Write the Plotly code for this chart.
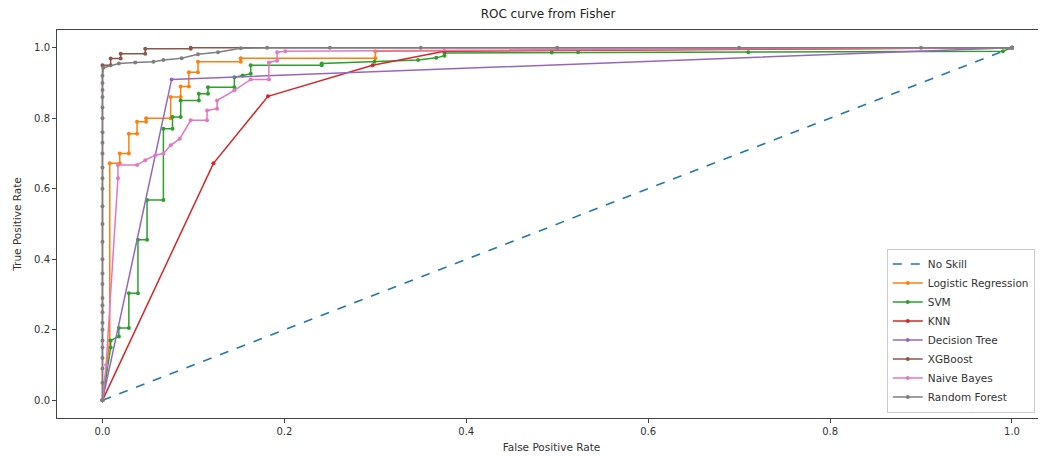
import plotly.graph_objects as go

# ---- data ----
noskill_fpr = [0.0, 1.0]
noskill_tpr = [0.0, 1.0]

lr_fpr = [0, 0.008, 0.008, 0.019, 0.019, 0.029, 0.029, 0.038, 0.038, 0.048, 0.048, 0.075, 0.075,
          0.086, 0.086, 0.095, 0.095, 0.105, 0.105, 0.152, 0.152, 0.30, 0.30, 1.0]
lr_tpr = [0, 0.17, 0.672, 0.672, 0.70, 0.70, 0.756, 0.756, 0.79, 0.79, 0.80, 0.80, 0.86,
          0.86, 0.89, 0.89, 0.93, 0.93, 0.96, 0.96, 0.97, 0.97, 0.99, 1.0]

svm_fpr = [0, 0.009, 0.009, 0.018, 0.018, 0.029, 0.029, 0.039, 0.039, 0.049, 0.049, 0.067, 0.067,
           0.077, 0.077, 0.086, 0.086, 0.106, 0.106, 0.116, 0.116, 0.145, 0.145, 0.154, 0.163,
           0.163, 0.241, 0.241, 0.299, 0.347, 0.367, 0.376, 0.376, 0.494, 0.523, 0.71, 0.99, 1.0]
svm_tpr = [0, 0.15, 0.17, 0.181, 0.205, 0.205, 0.304, 0.304, 0.455, 0.455, 0.568, 0.568, 0.770,
           0.770, 0.803, 0.803, 0.85, 0.85, 0.869, 0.869, 0.888, 0.888, 0.916, 0.921, 0.926,
           0.95, 0.95, 0.955, 0.96, 0.965, 0.971, 0.977, 0.985, 0.986, 0.987, 0.987, 0.99, 1.0]

knn_fpr = [0, 0.122, 0.182, 0.297, 0.376, 1.0]
knn_tpr = [0, 0.672, 0.862, 0.95, 0.99, 1.0]

dt_fpr = [0, 0.076, 1.0]
dt_tpr = [0, 0.91, 1.0]

xgb_fpr = [0, 0, 0.009, 0.009, 0.02, 0.02, 0.047, 0.047, 0.097, 0.097, 1.0]
xgb_tpr = [0, 0.95, 0.95, 0.969, 0.969, 0.983, 0.983, 0.997, 0.997, 1.0, 1.0]

nb_fpr = [0, 0.004, 0.017, 0.017, 0.038, 0.047, 0.058, 0.067, 0.075, 0.085, 0.097, 0.115, 0.115,
          0.126, 0.126, 0.145, 0.163, 0.183, 0.183, 0.192, 0.192, 0.201, 1.0]
nb_tpr = [0, 0.10, 0.63, 0.667, 0.667, 0.681, 0.695, 0.70, 0.723, 0.742, 0.794, 0.794, 0.822,
          0.827, 0.85, 0.879, 0.91, 0.91, 0.958, 0.963, 0.987, 0.99, 1.0]

rf_fpr = [0] * 29 + [0.001, 0.018, 0.036, 0.056, 0.067, 0.087, 0.105, 0.127, 0.152, 0.181,
                     0.25, 0.35, 0.5, 0.7, 0.9, 1.0]
rf_tpr = [0, 0.05, 0.09, 0.12, 0.15, 0.17, 0.2, 0.22, 0.25, 0.27, 0.29, 0.33, 0.36, 0.4, 0.45,
          0.5, 0.55, 0.6, 0.63, 0.66, 0.7, 0.73, 0.76, 0.8, 0.83, 0.86, 0.88, 0.9, 0.92,
          0.943, 0.955, 0.958, 0.960, 0.965, 0.970, 0.981, 0.987, 0.998, 1.0,
          1.0, 1.0, 1.0, 1.0, 1.0, 1.0]

tick_vals = [0, 0.2, 0.4, 0.6, 0.8, 1.0]
tick_text = ["0.0", "0.2", "0.4", "0.6", "0.8", "1.0"]

series = [
    ("Logistic Regression", lr_fpr, lr_tpr, "#ff7f0e"),
    ("SVM", svm_fpr, svm_tpr, "#2ca02c"),
    ("KNN", knn_fpr, knn_tpr, "#d62728"),
    ("Decision Tree", dt_fpr, dt_tpr, "#9467bd"),
    ("XGBoost", xgb_fpr, xgb_tpr, "#8c564b"),
    ("Naive Bayes", nb_fpr, nb_tpr, "#e377c2"),
    ("Random Forest", rf_fpr, rf_tpr, "#7f7f7f"),
]

fig = go.Figure()
fig.add_trace(go.Scatter(x=noskill_fpr, y=noskill_tpr, mode="lines", name="No Skill",
                         line=dict(color="#1f77b4", width=1.6, dash="dash")))
for name, fx, ty, col in series:
    fig.add_trace(go.Scatter(x=fx, y=ty, mode="lines+markers", name=name,
                             line=dict(color=col, width=1.5),
                             marker=dict(color=col, size=4)))

# the page body has a small default margin, so the figure is sized/offset accordingly
W, H = 1038, 448
font = "DejaVu Sans, Arial, sans-serif"
fig.update_layout(
    width=W, height=H,
    margin=dict(l=49, r=0, t=22, b=38, autoexpand=False),
    paper_bgcolor="white", plot_bgcolor="white",
    font=dict(family=font, size=10, color="#333"),
    title=dict(text="ROC curve from Fisher", x=540 / W, xanchor="center",
               y=1 - 1.5 / H, yanchor="top", font=dict(size=12, color="#222")),
    showlegend=True,
    legend=dict(x=0.839, y=0.014, xanchor="left", yanchor="bottom",
                bgcolor="rgba(255,255,255,0.9)", bordercolor="#cccccc", borderwidth=1,
                font=dict(size=10.5, color="#333"), tracegroupgap=0, itemwidth=30),
)
fig.update_xaxes(range=[-0.05, 1.0374], showgrid=False, zeroline=False, automargin=False,
                 showline=True, linecolor="#444", linewidth=1, mirror=True,
                 ticks="outside", ticklen=4, tickcolor="#444",
                 tickvals=tick_vals, ticktext=tick_text,
                 title=dict(text="False Positive Rate", standoff=7, font=dict(size=10.5)))
fig.update_yaxes(range=[-0.05, 1.05], showgrid=False, zeroline=False, automargin=False,
                 showline=True, linecolor="#444", linewidth=1, mirror=False,
                 ticks="outside", ticklen=4, tickcolor="#444",
                 tickvals=tick_vals, ticktext=tick_text,
                 title=dict(text="True Positive Rate", standoff=10, font=dict(size=10.5)))

fig.write_html("out.html")
